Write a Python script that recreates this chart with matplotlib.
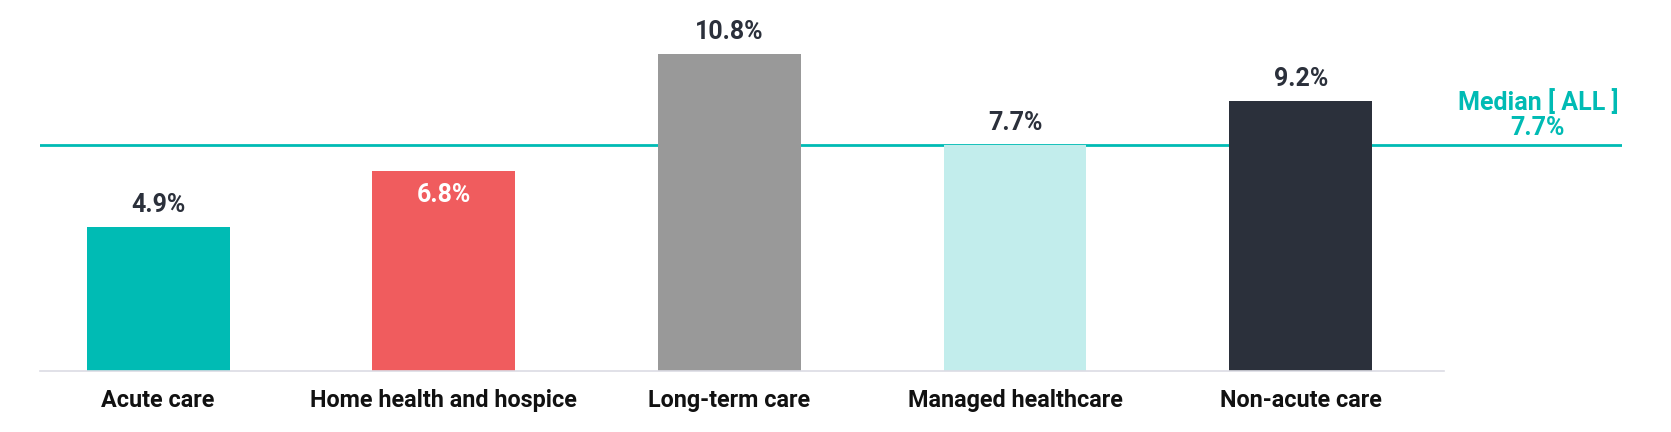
import matplotlib.pyplot as plt

plt.rcParams['font.family'] = ['Roboto', 'DejaVu Sans']

categories = ["Acute care", "Home health and hospice", "Long-term care",
              "Managed healthcare", "Non-acute care"]
values = [4.9, 6.8, 10.8, 7.7, 9.2]
colors = ["#00BBB4", "#F05C5E", "#999999", "#C2EDEC", "#2B303B"]
median_all = 7.7

fig = plt.figure(figsize=(16.71, 4.32), dpi=100)
ax = fig.add_axes([0.0242, 0.1416, 0.9465, 0.85])

x = list(range(len(categories)))
ax.bar(x, values, width=0.5, color=colors, zorder=2)

# value labels (second bar has its label inside, in white)
for i, v in enumerate(values):
    if i == 1:
        ax.text(i, v - 0.8, "%.1f%%" % v, ha="center", va="center",
                fontsize=18, fontweight="bold", color="white", zorder=3)
    else:
        ax.text(i, v + 0.75, "%.1f%%" % v, ha="center", va="center",
                fontsize=18, fontweight="bold", color="#2B303B", zorder=3)

# median line
ax.axhline(median_all, color="#00BBB4", lw=2, zorder=1)
ax.text(4.83, median_all + 1.45, "Median [ ALL ]", ha="center", va="center",
        fontsize=18, fontweight="bold", color="#00BBB4")
ax.text(4.83, median_all + 0.57, "%.1f%%" % median_all, ha="center", va="center",
        fontsize=18, fontweight="bold", color="#00BBB4")

# baseline
ax.plot([-0.412, 4.5], [0, 0], color="#DCDCE4", lw=1.2, zorder=3,
        clip_on=False)

ax.set_xlim(-0.412, 5.125)
ax.set_ylim(0, 12.5)
ax.set_xticks(x)
ax.set_xticklabels(categories, fontsize=16.8, fontweight="bold", color="#111111")
ax.tick_params(axis="x", length=0, pad=13)
ax.set_yticks([])
for s in ax.spines.values():
    s.set_visible(False)

fig.savefig("out.png", dpi=100)
